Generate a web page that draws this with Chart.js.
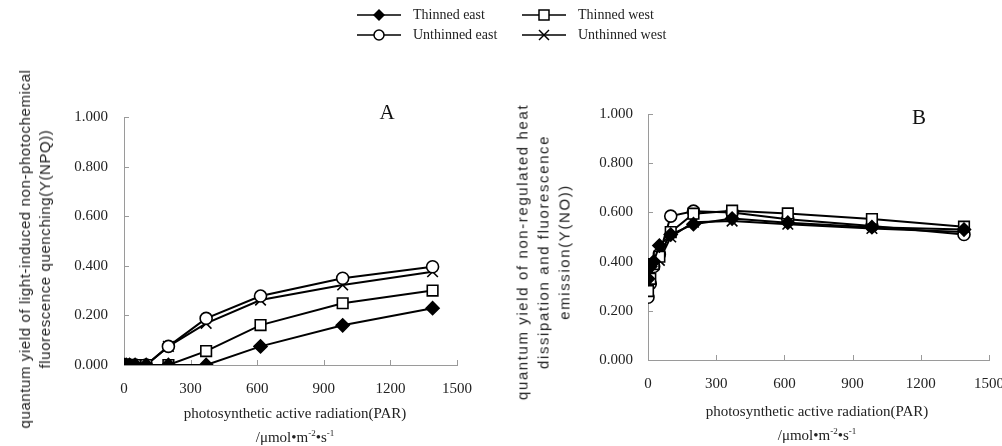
<!DOCTYPE html>
<html>
<head>
<meta charset="utf-8">
<script src="https://cdn.jsdelivr.net/npm/chart.js@4.4.1/dist/chart.umd.min.js"></script>
<style>
  html, body { margin:0; padding:0; background:#fff; width:1002px; height:446px; overflow:hidden; position:relative; }
  .cv { position:absolute; top:0; }
  .ytitle { position:absolute; font-family:"Liberation Sans", Arial, sans-serif; font-size:15px; color:#222; text-align:center; white-space:nowrap; transform-origin:center center; transform:translate(-50%,-50%) rotate(-90deg); }
  .xtitle { position:absolute; font-family:"Liberation Serif", "Times New Roman", serif; font-size:15px; color:#222; text-align:center; white-space:nowrap; transform:translate(-50%,-50%); }
  .panel { position:absolute; font-family:"Liberation Serif", "Times New Roman", serif; font-size:21px; color:#111; transform:translate(-50%,-50%); }
  .leg { position:absolute; font-family:"Liberation Serif", "Times New Roman", serif; font-size:14px; color:#222; display:flex; align-items:center; }
  .leg svg { margin-right:12px; }
</style>
</head>
<body>
<canvas id="cA" class="cv" style="left:0;width:500px;height:446px" width="500" height="446"></canvas>
<canvas id="cB" class="cv" style="left:500px;width:520px;height:446px" width="520" height="446"></canvas>

<div class="leg" style="left:357px;top:7px">
  <svg width="44" height="16"><line x1="0" y1="8" x2="44" y2="8" stroke="#000" stroke-width="1.6"/><polygon points="22,2 28,8 22,14 16,8" fill="#000"/></svg>Thinned east</div>
<div class="leg" style="left:357px;top:27px">
  <svg width="44" height="16"><line x1="0" y1="8" x2="44" y2="8" stroke="#000" stroke-width="1.6"/><circle cx="22" cy="8" r="5" fill="#fff" stroke="#000" stroke-width="1.5"/></svg>Unthinned east</div>
<div class="leg" style="left:522px;top:7px">
  <svg width="44" height="16"><line x1="0" y1="8" x2="44" y2="8" stroke="#000" stroke-width="1.6"/><rect x="17" y="3" width="10" height="10" fill="#fff" stroke="#000" stroke-width="1.5"/></svg>Thinned west</div>
<div class="leg" style="left:522px;top:27px">
  <svg width="44" height="16"><line x1="0" y1="8" x2="44" y2="8" stroke="#000" stroke-width="1.6"/><line x1="17" y1="3" x2="27" y2="13" stroke="#000" stroke-width="1.5"/><line x1="27" y1="3" x2="17" y2="13" stroke="#000" stroke-width="1.5"/></svg>Unthinned west</div>

<div class="ytitle" style="left:35px;top:249px;line-height:20px;letter-spacing:0.6px">quantum yield of light-induced non-photochemical<br>fluorescence quenching(Y(NPQ))</div>
<div class="ytitle" style="left:543px;top:252px;line-height:21px;letter-spacing:1.6px">quantum yield of non-regulated heat<br>dissipation and fluorescence<br>emission(Y(NO))</div>

<div class="xtitle" style="left:295px;top:413px">photosynthetic active radiation(PAR)</div>
<div class="xtitle" style="left:295px;top:437px">/μmol•m<sup style="font-size:9px">-2</sup>•s<sup style="font-size:9px">-1</sup></div>
<div class="xtitle" style="left:817px;top:411px">photosynthetic active radiation(PAR)</div>
<div class="xtitle" style="left:817px;top:435px">/μmol•m<sup style="font-size:9px">-2</sup>•s<sup style="font-size:9px">-1</sup></div>

<div class="panel" style="left:387px;top:112px">A</div>
<div class="panel" style="left:919px;top:117px">B</div>

<script>
// ---- data ----
const par = [0, 10, 25, 50, 100, 200, 370, 615, 985, 1390];
const seriesNames = ["Thinned east", "Thinned west", "Unthinned east", "Unthinned west"];

// Panel A: Y(NPQ)
const npqThinnedEast   = [0, 0, 0, 0, 0, 0,     0,     0.075, 0.160, 0.229];
const npqThinnedWest   = [0, 0, 0, 0, 0, 0,     0.056, 0.161, 0.249, 0.300];
const npqUnthinnedEast = [0, 0, 0, 0, 0, 0.075, 0.188, 0.278, 0.350, 0.396];
const npqUnthinnedWest = [0, 0, 0, 0, 0, 0.075, 0.168, 0.262, 0.323, 0.376];

// Panel B: Y(NO)
const noThinnedEast   = [0.330, 0.380, 0.400, 0.465, 0.510, 0.552, 0.575, 0.558, 0.540, 0.530];
const noThinnedWest   = [0.280, 0.330, 0.390, 0.420, 0.520, 0.595, 0.607, 0.596, 0.573, 0.542];
const noUnthinnedEast = [0.255, 0.310, 0.380, 0.430, 0.585, 0.605, 0.600, 0.572, 0.545, 0.510];
const noUnthinnedWest = [0.300, 0.350, 0.390, 0.405, 0.500, 0.560, 0.565, 0.552, 0.535, 0.520];

const xTicks = [0, 300, 600, 900, 1200, 1500];
const yTicks = [0, 0.2, 0.4, 0.6, 0.8, 1.0];

// ---- chart helpers ----
const styles = [
  { pointStyle: 'rectRot', pointRadius: 6.5, pointBackgroundColor: '#000' },
  { pointStyle: 'rect',    pointRadius: 7.5, pointBackgroundColor: '#fff' },
  { pointStyle: 'circle',  pointRadius: 6,   pointBackgroundColor: '#fff' },
  { pointStyle: 'crossRot',pointRadius: 7.5, pointBackgroundColor: '#fff' }
];
function mk(vals) {
  return vals.map((v, i) => Object.assign({
    label: seriesNames[i],
    data: par.map((x, j) => ({ x: x, y: v[j] })),
    borderColor: '#000',
    borderWidth: 2,
    pointBorderColor: '#000',
    pointBorderWidth: 1.6,
    pointHoverRadius: 6,
    tension: 0,
    order: i
  }, styles[i]));
}

const innerTicks = {
  id: 'innerTicks',
  beforeDatasetsDraw(chart) {
    const ctx = chart.ctx, xs = chart.scales.x, ys = chart.scales.y;
    ctx.save();
    ctx.strokeStyle = '#9a9a9a';
    ctx.lineWidth = 1;
    ctx.beginPath();
    xTicks.forEach(v => { const p = Math.round(xs.getPixelForValue(v)) + 0.5; ctx.moveTo(p, ys.bottom); ctx.lineTo(p, ys.bottom - 5); });
    yTicks.forEach(v => { const p = Math.round(ys.getPixelForValue(v)) + 0.5; ctx.moveTo(xs.left, p); ctx.lineTo(xs.left + 5, p); });
    ctx.stroke();
    ctx.restore();
  }
};

function makeChart(id, datasets, leftW, padRight, padTop, bottomH, tickPad) {
  return new Chart(document.getElementById(id), {
    type: 'line',
    data: { datasets: datasets },
    options: {
      responsive: false,
      animation: false,
      layout: { padding: { left: 0, right: padRight, top: padTop, bottom: 0 } },
      plugins: { legend: { display: false }, tooltip: { enabled: false } },
      scales: {
        x: {
          type: 'linear', min: 0, max: 1500,
          afterBuildTicks: s => { s.ticks = xTicks.map(v => ({ value: v })); },
          afterFit: s => { s.height = bottomH; },
          grid: { display: true, drawOnChartArea: false, drawTicks: false },
          border: { display: true, color: '#9a9a9a', width: 1 },
          ticks: { color: '#222', padding: 15, maxRotation: 0, font: { family: '"Liberation Serif", "Times New Roman", serif', size: 15 }, callback: v => String(v) }
        },
        y: {
          type: 'linear', min: 0, max: 1,
          afterBuildTicks: s => { s.ticks = yTicks.map(v => ({ value: v })); },
          afterFit: s => { s.width = leftW; },
          grid: { display: true, drawOnChartArea: false, drawTicks: false },
          border: { display: true, color: '#9a9a9a', width: 1 },
          ticks: { color: '#222', padding: tickPad, font: { family: '"Liberation Serif", "Times New Roman", serif', size: 15 }, callback: v => Number(v).toFixed(3) }
        }
      }
    },
    plugins: [innerTicks]
  });
}

makeChart('cA', mk([npqThinnedEast, npqThinnedWest, npqUnthinnedEast, npqUnthinnedWest]), 124, 43, 117, 81, 16);
makeChart('cB', mk([noThinnedEast, noThinnedWest, noUnthinnedEast, noUnthinnedWest]), 148, 31, 114, 86, 15);
</script>
</body>
</html>
